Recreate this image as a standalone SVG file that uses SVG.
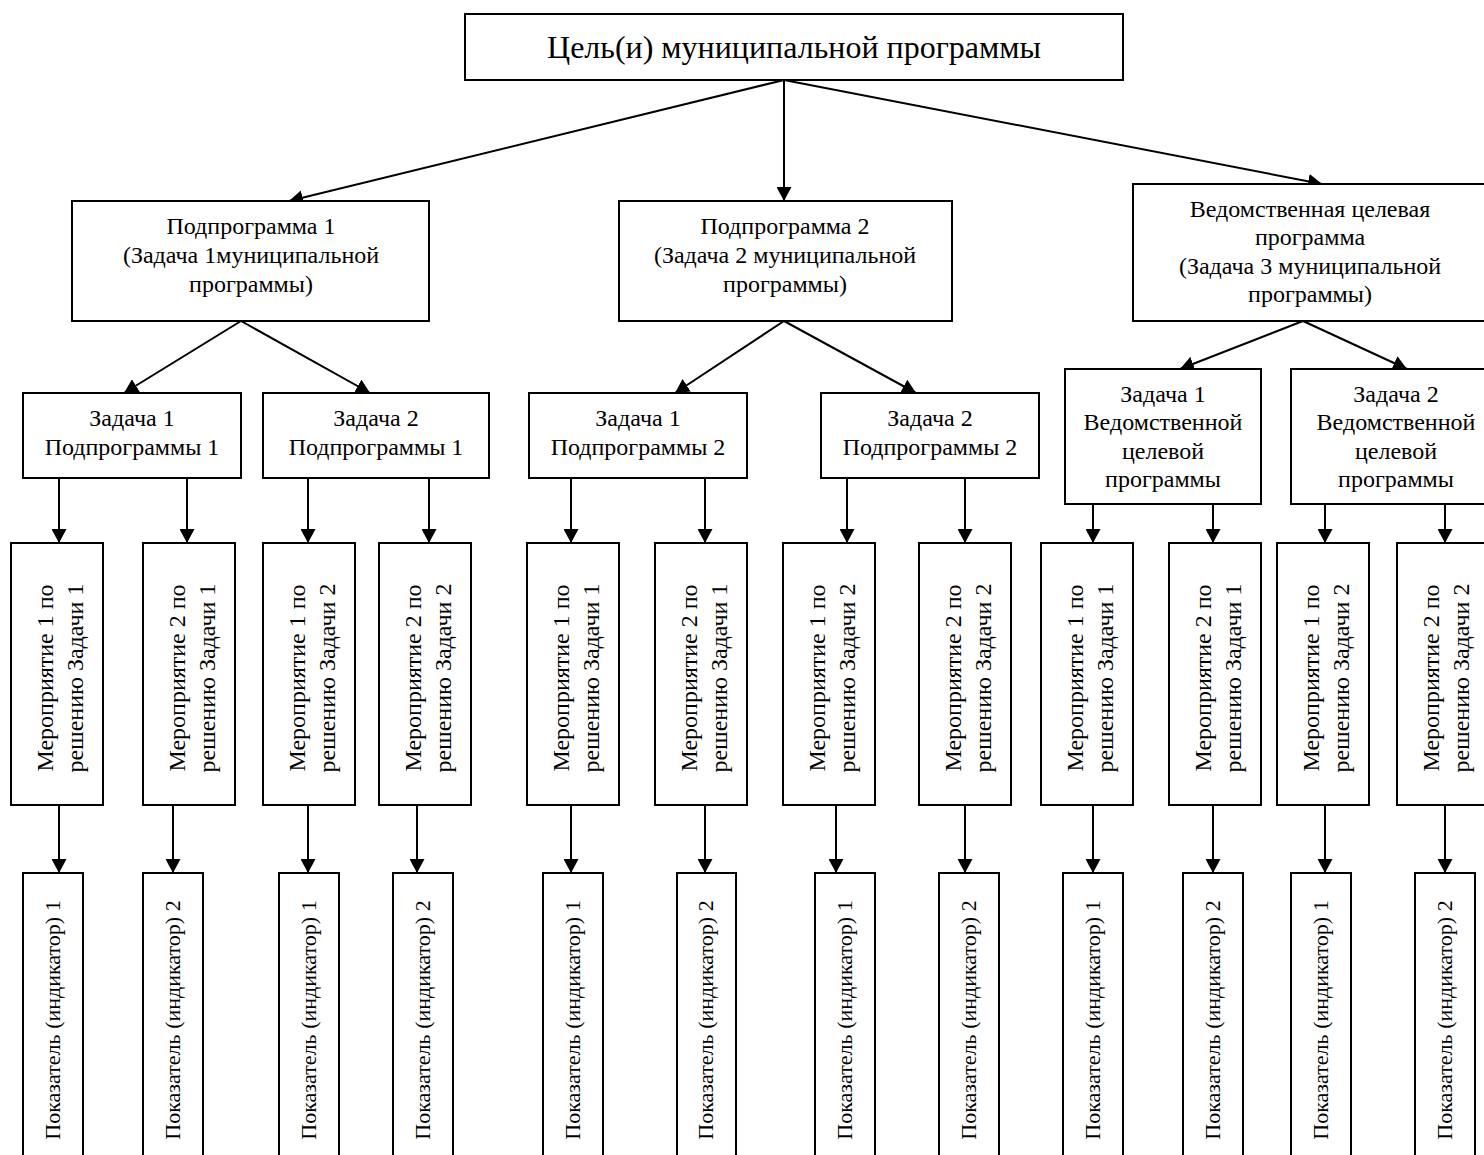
<svg xmlns="http://www.w3.org/2000/svg" width="1484" height="1155" viewBox="0 0 1484 1155" font-family="'Liberation Serif', 'Times New Roman', serif">
<defs>
<marker id="arr" markerUnits="userSpaceOnUse" markerWidth="15" markerHeight="15" refX="14" refY="7.5" orient="auto">
<path d="M0,0 L14,7.5 L0,15 z" fill="#000"/>
</marker>
<style>
rect{fill:#fff;stroke:#000;stroke-width:2}
text{font-family:"Liberation Serif","Times New Roman",serif;font-size:24px;fill:#000;text-anchor:middle}
.t{font-size:32px}
.i{font-size:22px}
#connectors line{stroke:#000;stroke-width:2;marker-end:url(#arr)}
</style>
</defs>
<rect x="0" y="0" width="1484" height="1155" style="fill:#fff;stroke:none"/>
<g id="connectors">
<line x1="784" y1="80" x2="289" y2="201"/>
<line x1="784" y1="80" x2="784" y2="201"/>
<line x1="784" y1="80" x2="1322" y2="184"/>
<line x1="241" y1="321" x2="124" y2="393"/>
<line x1="241" y1="321" x2="370" y2="393"/>
<line x1="784" y1="321" x2="675" y2="393"/>
<line x1="784" y1="321" x2="916" y2="393"/>
<line x1="1303" y1="321" x2="1180" y2="369"/>
<line x1="1303" y1="321" x2="1407" y2="369"/>
<line x1="59" y1="478" x2="59" y2="543"/>
<line x1="187" y1="478" x2="187" y2="543"/>
<line x1="308" y1="478" x2="308" y2="543"/>
<line x1="429" y1="478" x2="429" y2="543"/>
<line x1="571" y1="478" x2="571" y2="543"/>
<line x1="705" y1="478" x2="705" y2="543"/>
<line x1="847" y1="478" x2="847" y2="543"/>
<line x1="965" y1="478" x2="965" y2="543"/>
<line x1="1093" y1="504" x2="1093" y2="543"/>
<line x1="1213" y1="504" x2="1213" y2="543"/>
<line x1="1325" y1="504" x2="1325" y2="543"/>
<line x1="1445" y1="504" x2="1445" y2="543"/>
<line x1="59" y1="805" x2="59" y2="873"/>
<line x1="173" y1="805" x2="173" y2="873"/>
<line x1="308" y1="805" x2="308" y2="873"/>
<line x1="417" y1="805" x2="417" y2="873"/>
<line x1="571" y1="805" x2="571" y2="873"/>
<line x1="705" y1="805" x2="705" y2="873"/>
<line x1="836" y1="805" x2="836" y2="873"/>
<line x1="965" y1="805" x2="965" y2="873"/>
<line x1="1093" y1="805" x2="1093" y2="873"/>
<line x1="1213" y1="805" x2="1213" y2="873"/>
<line x1="1325" y1="805" x2="1325" y2="873"/>
<line x1="1445" y1="805" x2="1445" y2="873"/>
</g>
<g id="goal"><rect x="465" y="14" width="658" height="66"/><text class="t" x="794" y="58">Цель(и) муниципальной программы</text></g>
<g id="sub1"><rect x="72" y="201" width="357" height="120"/><text x="251" y="234">Подпрограмма 1</text><text x="251" y="263">(Задача 1муниципальной</text><text x="251" y="292">программы)</text></g>
<g id="sub2"><rect x="619" y="201" width="333" height="120"/><text x="785" y="234">Подпрограмма 2</text><text x="785" y="263">(Задача 2 муниципальной</text><text x="785" y="292">программы)</text></g>
<g id="vcp"><rect x="1133" y="184" width="354" height="137"/><text x="1310" y="217">Ведомственная целевая</text><text x="1310" y="245">программа</text><text x="1310" y="274">(Задача 3 муниципальной</text><text x="1310" y="302">программы)</text></g>
<g id="t1s1"><rect x="23" y="393" width="218" height="85"/><text x="132" y="426">Задача 1</text><text x="132" y="455">Подпрограммы 1</text></g>
<g id="t2s1"><rect x="263" y="393" width="226" height="85"/><text x="376" y="426">Задача 2</text><text x="376" y="455">Подпрограммы 1</text></g>
<g id="t1s2"><rect x="529" y="393" width="218" height="85"/><text x="638" y="426">Задача 1</text><text x="638" y="455">Подпрограммы 2</text></g>
<g id="t2s2"><rect x="821" y="393" width="218" height="85"/><text x="930" y="426">Задача 2</text><text x="930" y="455">Подпрограммы 2</text></g>
<g id="t1v"><rect x="1065" y="369" width="196" height="135"/><text x="1163" y="402">Задача 1</text><text x="1163" y="430">Ведомственной</text><text x="1163" y="459">целевой</text><text x="1163" y="487">программы</text></g>
<g id="t2v"><rect x="1291" y="369" width="210" height="135"/><text x="1396" y="402">Задача 2</text><text x="1396" y="430">Ведомственной</text><text x="1396" y="459">целевой</text><text x="1396" y="487">программы</text></g>
<g id="m1"><rect x="11" y="543" width="92" height="262"/><g transform="translate(57,678) rotate(-90)"><text y="-4">Мероприятие 1 по</text><text y="26">решению Задачи 1</text></g></g>
<g id="m2"><rect x="143" y="543" width="92" height="262"/><g transform="translate(189,678) rotate(-90)"><text y="-4">Мероприятие 2 по</text><text y="26">решению Задачи 1</text></g></g>
<g id="m3"><rect x="263" y="543" width="92" height="262"/><g transform="translate(309,678) rotate(-90)"><text y="-4">Мероприятие 1 по</text><text y="26">решению Задачи 2</text></g></g>
<g id="m4"><rect x="379" y="543" width="92" height="262"/><g transform="translate(425,678) rotate(-90)"><text y="-4">Мероприятие 2 по</text><text y="26">решению Задачи 2</text></g></g>
<g id="m5"><rect x="527" y="543" width="92" height="262"/><g transform="translate(573,678) rotate(-90)"><text y="-4">Мероприятие 1 по</text><text y="26">решению Задачи 1</text></g></g>
<g id="m6"><rect x="655" y="543" width="92" height="262"/><g transform="translate(701,678) rotate(-90)"><text y="-4">Мероприятие 2 по</text><text y="26">решению Задачи 1</text></g></g>
<g id="m7"><rect x="783" y="543" width="92" height="262"/><g transform="translate(829,678) rotate(-90)"><text y="-4">Мероприятие 1 по</text><text y="26">решению Задачи 2</text></g></g>
<g id="m8"><rect x="919" y="543" width="92" height="262"/><g transform="translate(965,678) rotate(-90)"><text y="-4">Мероприятие 2 по</text><text y="26">решению Задачи 2</text></g></g>
<g id="m9"><rect x="1041" y="543" width="92" height="262"/><g transform="translate(1087,678) rotate(-90)"><text y="-4">Мероприятие 1 по</text><text y="26">решению Задачи 1</text></g></g>
<g id="m10"><rect x="1169" y="543" width="92" height="262"/><g transform="translate(1215,678) rotate(-90)"><text y="-4">Мероприятие 2 по</text><text y="26">решению Задачи 1</text></g></g>
<g id="m11"><rect x="1277" y="543" width="92" height="262"/><g transform="translate(1323,678) rotate(-90)"><text y="-4">Мероприятие 1 по</text><text y="26">решению Задачи 2</text></g></g>
<g id="m12"><rect x="1397" y="543" width="92" height="262"/><g transform="translate(1443,678) rotate(-90)"><text y="-4">Мероприятие 2 по</text><text y="26">решению Задачи 2</text></g></g>
<g id="i1"><rect x="23" y="873" width="60" height="290"/><text class="i" transform="translate(60,1020) rotate(-90)">Показатель (индикатор) 1</text></g>
<g id="i2"><rect x="143" y="873" width="60" height="290"/><text class="i" transform="translate(180,1020) rotate(-90)">Показатель (индикатор) 2</text></g>
<g id="i3"><rect x="279" y="873" width="60" height="290"/><text class="i" transform="translate(316,1020) rotate(-90)">Показатель (индикатор) 1</text></g>
<g id="i4"><rect x="393" y="873" width="60" height="290"/><text class="i" transform="translate(430,1020) rotate(-90)">Показатель (индикатор) 2</text></g>
<g id="i5"><rect x="543" y="873" width="60" height="290"/><text class="i" transform="translate(580,1020) rotate(-90)">Показатель (индикатор) 1</text></g>
<g id="i6"><rect x="677" y="873" width="59" height="290"/><text class="i" transform="translate(713,1020) rotate(-90)">Показатель (индикатор) 2</text></g>
<g id="i7"><rect x="815" y="873" width="60" height="290"/><text class="i" transform="translate(852,1020) rotate(-90)">Показатель (индикатор) 1</text></g>
<g id="i8"><rect x="939" y="873" width="60" height="290"/><text class="i" transform="translate(976,1020) rotate(-90)">Показатель (индикатор) 2</text></g>
<g id="i9"><rect x="1063" y="873" width="60" height="290"/><text class="i" transform="translate(1100,1020) rotate(-90)">Показатель (индикатор) 1</text></g>
<g id="i10"><rect x="1183" y="873" width="60" height="290"/><text class="i" transform="translate(1220,1020) rotate(-90)">Показатель (индикатор) 2</text></g>
<g id="i11"><rect x="1291" y="873" width="60" height="290"/><text class="i" transform="translate(1328,1020) rotate(-90)">Показатель (индикатор) 1</text></g>
<g id="i12"><rect x="1415" y="873" width="60" height="290"/><text class="i" transform="translate(1452,1020) rotate(-90)">Показатель (индикатор) 2</text></g>
</svg>
